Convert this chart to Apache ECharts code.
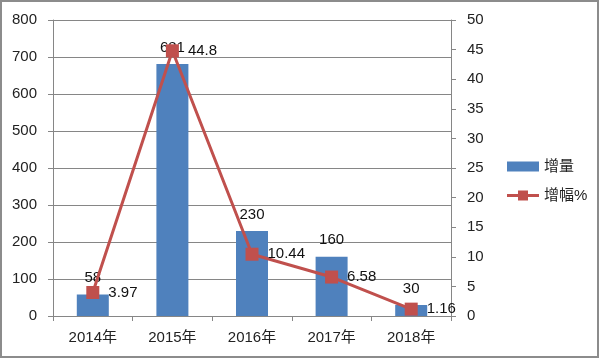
<!DOCTYPE html>
<html><head><meta charset="utf-8">
<script src="https://cdn.jsdelivr.net/npm/echarts@6/dist/echarts.min.js"></script>
<style>html,body{margin:0;padding:0;background:#fff}#c{width:600px;height:359px}</style>
</head><body><div id="c"></div>
<script>
const categories = ['2014年','2015年','2016年','2017年','2018年'];
const increase = [58, 681, 230, 160, 30];
const growthPct = [3.97, 44.8, 10.44, 6.58, 1.16];
const leftTicks = {min:0, max:800, interval:100};
const rightTicks = {min:0, max:50, interval:5};

const font = '"Liberation Sans", "Noto Sans CJK SC", sans-serif';
const lineIcon = 'path://M0,3.5L11,3.5L11,0L21,0L21,3.5L32,3.5L32,6.5L21,6.5L21,10L11,10L11,6.5L0,6.5Z';
const chart = echarts.init(document.getElementById('c'), null, {renderer:'canvas'});
chart.setOption({
  animation:false,
  textStyle:{fontFamily:font},
  graphic:[{type:'rect', silent:true, z:100,
    shape:{x:1, y:1, width:597, height:356},
    style:{fill:'none', stroke:'#8c8c8c', lineWidth:2}}],
  grid:{left:53, right:149, top:20, bottom:43},
  legend:{
    orient:'vertical', left:502, top:154, itemWidth:32, itemHeight:10, itemGap:14,
    textStyle:{fontSize:15, color:'#222', fontFamily:font},
    data:[{name:'增量', icon:'rect', itemStyle:{color:'#4F81BD'}},
          {name:'增幅%', icon:lineIcon, itemStyle:{color:'#C0504D'}}]
  },
  xAxis:{
    type:'category', data:categories,
    axisLine:{lineStyle:{color:'#868686'}},
    axisTick:{show:true, length:5, lineStyle:{color:'#868686'}},
    axisLabel:{fontSize:15, color:'#222', margin:14, fontFamily:font}
  },
  yAxis:[{
    type:'value', min:leftTicks.min, max:leftTicks.max, interval:leftTicks.interval,
    axisLine:{show:true, lineStyle:{color:'#868686'}},
    axisTick:{show:true, length:5, lineStyle:{color:'#868686'}},
    splitLine:{lineStyle:{color:'#868686'}},
    axisLabel:{fontSize:15, color:'#222', margin:16, fontFamily:font}
  },{
    type:'value', min:rightTicks.min, max:rightTicks.max, interval:rightTicks.interval,
    axisLine:{show:true, lineStyle:{color:'#868686'}},
    axisTick:{show:true, length:5, lineStyle:{color:'#868686'}},
    splitLine:{show:false},
    axisLabel:{fontSize:15, color:'#222', margin:16, fontFamily:font}
  }],
  series:[{
    name:'增量', type:'bar', data:increase, barWidth:32,
    itemStyle:{color:'#4F81BD'},
    label:{show:true, position:'top', distance:9, fontSize:15, color:'#111', fontFamily:font}
  },{
    name:'增幅%', type:'line', yAxisIndex:1, data:growthPct,
    symbol:'rect', symbolSize:13,
    lineStyle:{color:'#C0504D', width:3},
    itemStyle:{color:'#C0504D'},
    label:{show:true, position:'right', distance:9, fontSize:15, color:'#111', fontFamily:font}
  }]
});
</script></body></html>
